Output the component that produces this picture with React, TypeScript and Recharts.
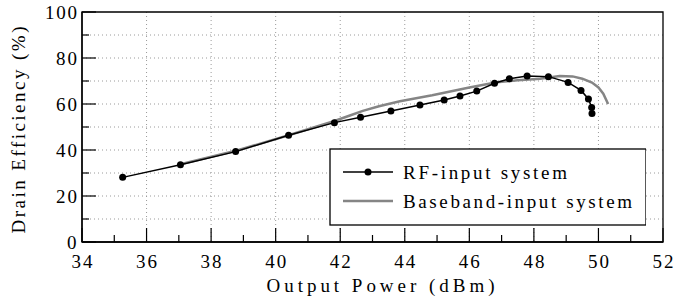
import React from "react";
import { LineChart, Line, XAxis, YAxis, CartesianGrid, ReferenceArea } from "recharts";

const rfPower = [35.26, 37.05, 38.76, 40.4, 41.82, 42.63, 43.57, 44.47, 45.22, 45.71, 46.23, 46.78, 47.24, 47.79, 48.45, 49.06, 49.46, 49.69, 49.79, 49.8];
const rfEfficiency = [28.1, 33.6, 39.3, 46.4, 51.9, 54.2, 57.0, 59.6, 61.7, 63.5, 65.6, 69.0, 71.0, 72.2, 71.9, 69.4, 65.9, 62.2, 58.5, 55.9];

const bbPower = [37.05, 38.8, 40.4, 41.8, 42.3, 42.7, 43.2, 43.85, 44.85, 46.0, 46.85, 47.5, 48.2, 48.8, 49.2, 49.5, 49.8, 50.0, 50.15, 50.3];
const bbEfficiency = [33.8, 39.8, 46.4, 52.5, 55.0, 57.0, 59.0, 61.2, 63.8, 67.2, 69.5, 70.3, 71.0, 72.2, 72.0, 71.0, 69.3, 67.2, 64.5, 60.0];

const xTicks = [34, 35, 36, 37, 38, 39, 40, 41, 42, 43, 44, 45, 46, 47, 48, 49, 50, 51, 52];
const yTicks = [0, 10, 20, 30, 40, 50, 60, 70, 80, 90, 100];
const xGrid = [36, 38, 40, 42, 44, 46, 48, 50];
const yGrid = [10, 20, 30, 40, 50, 60, 70, 80, 90];

const seriesNames = ["RF-input system", "Baseband-input system"];

const rfData = rfPower.map((p, i) => ({ p, e: rfEfficiency[i] }));
const bbData = bbPower.map((p, i) => ({ p, e: bbEfficiency[i] }));

const FONT = "Liberation Serif";
const FS = 19;
const GRAY = "#858585";

let ctx: CanvasRenderingContext2D | null = null;
const measure = (s: string) => {
  if (!ctx) ctx = document.createElement("canvas").getContext("2d");
  if (!ctx) return s.length * FS * 0.5;
  ctx.font = `${FS}px "${FONT}"`;
  return ctx.measureText(s).width;
};

// computer modern is wider than times: spread letters so the text gets the width seen in the picture
const WideText = ({ x, y, width, anchor = "start", children }: any) => {
  const s = String(children);
  const natural = measure(s);
  const ls = s.length > 1 ? (width - natural) / (s.length - 1) : 0;
  const x0 = anchor === "middle" ? x - width / 2 : anchor === "end" ? x - width : x;
  return (
    <text x={x0} y={y} fontSize={FS} fill="#000" style={{ fontFamily: FONT, letterSpacing: `${ls}px` }}>
      {s}
    </text>
  );
};

const numLen = (v: number) => String(v).length * 11 - 1;

const BottomTick = (props: any) => {
  const { x, y, payload } = props;
  const major = payload.value % 2 === 0;
  return (
    <g>
      <line x1={x} y1={y} x2={x} y2={y - (major ? 14 : 7)} stroke="#000" strokeWidth={1.2} />
      {major && (
        <WideText x={x} y={y + 26} anchor="middle" width={numLen(payload.value)}>
          {payload.value}
        </WideText>
      )}
    </g>
  );
};

const TopTick = (props: any) => {
  const { x, y, payload } = props;
  const major = payload.value % 2 === 0;
  return <line x1={x} y1={y} x2={x} y2={y + (major ? 14 : 7)} stroke="#000" strokeWidth={1.2} />;
};

const LeftTick = (props: any) => {
  const { x, y, payload } = props;
  const major = payload.value % 20 === 0;
  return (
    <g>
      <line x1={x} y1={y} x2={x + (major ? 14 : 7)} y2={y} stroke="#000" strokeWidth={1.2} />
      {major && (
        <WideText x={x - 5} y={y + 7} anchor="end" width={numLen(payload.value)}>
          {payload.value}
        </WideText>
      )}
    </g>
  );
};

const RightTick = (props: any) => {
  const { x, y, payload } = props;
  const major = payload.value % 20 === 0;
  return <line x1={x} y1={y} x2={x - (major ? 14 : 7)} y2={y} stroke="#000" strokeWidth={1.2} />;
};

const XLabel = (props: any) => {
  const vb = props.viewBox;
  return (
    <WideText x={vb.x + vb.width / 2 + 8} y={vb.y + 50} anchor="middle" width={228}>
      Output Power (dBm)
    </WideText>
  );
};

const YLabel = (props: any) => {
  const vb = props.viewBox;
  const cy = vb.y + vb.height / 2 + 3;
  return (
    <g transform={`translate(25, ${cy}) rotate(-90)`}>
      <WideText x={0} y={0} anchor="middle" width={207}>
        Drain Efficiency (%)
      </WideText>
    </g>
  );
};

export default function App() {
  return (
    <div style={{ position: "absolute", left: 0, top: 0, width: 675, height: 301, background: "#fff" }}>
      <LineChart width={675} height={301} margin={{ top: 12, right: 12, left: 0, bottom: 0 }}>
        <CartesianGrid
          stroke="#9a9a9a"
          strokeDasharray="1 3"
          verticalValues={xGrid}
          horizontalValues={yGrid}
        />
        <XAxis
          dataKey="p"
          type="number"
          domain={[34, 52]}
          ticks={xTicks}
          interval={0}
          height={59}
          tickSize={0}
          tickMargin={0}
          tickLine={false}
          tick={<BottomTick />}
          axisLine={{ stroke: "#000", strokeWidth: 1.3 }}
          allowDataOverflow
          label={<XLabel />}
        />
        <XAxis
          xAxisId="top"
          orientation="top"
          dataKey="p"
          type="number"
          domain={[34, 52]}
          ticks={xTicks}
          interval={0}
          height={0}
          tickSize={0}
          tickMargin={0}
          tickLine={false}
          tick={<TopTick />}
          axisLine={false}
          allowDataOverflow
        />
        <YAxis
          type="number"
          domain={[0, 100]}
          ticks={yTicks}
          interval={0}
          width={82}
          tickSize={0}
          tickMargin={0}
          tickLine={false}
          tick={<LeftTick />}
          axisLine={{ stroke: "#000", strokeWidth: 1.3 }}
          allowDataOverflow
          label={<YLabel />}
        />
        <YAxis
          yAxisId="right"
          orientation="right"
          type="number"
          domain={[0, 100]}
          ticks={yTicks}
          interval={0}
          width={0}
          tickSize={0}
          tickMargin={0}
          tickLine={false}
          tick={<RightTick />}
          axisLine={false}
          allowDataOverflow
        />
        <ReferenceArea x1={34} x2={52} y1={0} y2={100} fill="none" stroke="#000" strokeWidth={1.3} ifOverflow="visible" />
        <Line
          data={bbData}
          dataKey="e"
          type="linear"
          stroke={GRAY}
          strokeWidth={2.5}
          dot={false}
          isAnimationActive={false}
        />
        <Line
          data={rfData}
          dataKey="e"
          type="linear"
          stroke="#000"
          strokeWidth={1.5}
          dot={{ r: 3.5, fill: "#000", stroke: "#000", strokeWidth: 0 }}
          isAnimationActive={false}
        />
      </LineChart>
      <svg
        width={317}
        height={78}
        style={{ position: "absolute", left: 329, top: 148, display: "block" }}
      >
        <rect x={1} y={1} width={316} height={76} fill="#fff" stroke="#000" strokeWidth={1.3} />
        {seriesNames.map((name, i) => {
          const cy = i === 0 ? 24 : 53;
          return (
            <g key={name}>
              <line x1={14} y1={cy} x2={64} y2={cy} stroke={i === 0 ? "#000" : GRAY} strokeWidth={i === 0 ? 1.5 : 2.5} />
              {i === 0 && <circle cx={39} cy={cy} r={3.5} fill="#000" />}
              <WideText x={74} y={cy + 7} width={i === 0 ? 164 : 229}>
                {name}
              </WideText>
            </g>
          );
        })}
      </svg>
    </div>
  );
}
